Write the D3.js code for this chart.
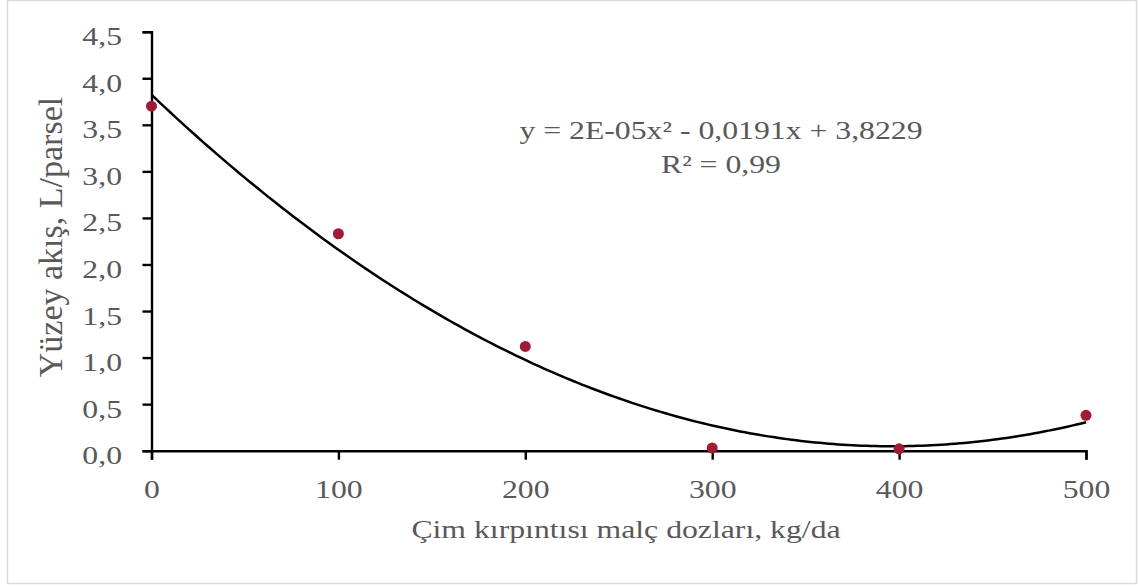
<!DOCTYPE html>
<html><head><meta charset="utf-8">
<script src="https://cdn.jsdelivr.net/npm/d3@7"></script>
<style>body{margin:0;background:#fff}svg{display:block}</style>
</head><body>
<script>
const doses = [0, 100, 200, 300, 400, 500];
const runoff = [3.70, 2.33, 1.12, 0.03, 0.02, 0.38];
const yTicks = [0, 0.5, 1.0, 1.5, 2.0, 2.5, 3.0, 3.5, 4.0, 4.5];
const xTicks = [0, 100, 200, 300, 400, 500];
const xTitle = "Çim kırpıntısı malç dozları, kg/da";
const yTitle = "Yüzey akış, L/parsel";
const eqText = "y = 2E-05x² - 0,0191x + 3,8229";
const r2Text = "R² = 0,99";

const W = 1139, H = 586;
const SX = 1.27;
const svg = d3.select("body").append("svg").attr("width", W).attr("height", H);
svg.append("rect").attr("x", 7.5).attr("y", 0.5).attr("width", 1129).attr("height", 583)
  .attr("fill", "#fff").attr("stroke", "#d9d9d9").attr("stroke-width", 1.5);

const x = d3.scaleLinear().domain([0, 500]).range([151.5, 1086]);
const y = d3.scaleLinear().domain([0, 4.5]).range([450.7, 31.7]);
const font = "'Liberation Serif','Times New Roman',serif";
const grey = "#595959";
const fmt = d => d3.format(".1f")(d).replace(".", ",");

// quadratic least-squares fit of the data (trendline)
function quadFit(xs, ys) {
  let S = [0,0,0,0,0], T = [0,0,0];
  xs.forEach((xi, i) => { for (let k = 0; k < 5; k++) S[k] += Math.pow(xi, k);
    for (let k = 0; k < 3; k++) T[k] += ys[i] * Math.pow(xi, k); });
  const A = [[S[0],S[1],S[2],T[0]],[S[1],S[2],S[3],T[1]],[S[2],S[3],S[4],T[2]]];
  for (let i = 0; i < 3; i++) { for (let j = i+1; j < 3; j++) { const f = A[j][i]/A[i][i];
    for (let k = i; k < 4; k++) A[j][k] -= f*A[i][k]; } }
  const c = [0,0,0];
  for (let i = 2; i >= 0; i--) { let s = A[i][3]; for (let k = i+1; k < 3; k++) s -= A[i][k]*c[k]; c[i] = s/A[i][i]; }
  return c;
}
const c = quadFit(doses, runoff);
const fx = d3.range(0, 500.01, 2.5);
const line = d3.line().x(d => x(d)).y(d => y(c[0] + c[1]*d + c[2]*d*d));

const yAxis = d3.axisLeft(y).tickValues(yTicks).tickFormat(fmt).tickSizeOuter(0).tickSize(9);
const gy = svg.append("g").attr("transform", `translate(${x(0)},0)`).call(yAxis);
const xAxis = d3.axisBottom(x).tickValues(xTicks).tickFormat(d3.format("d")).tickSizeOuter(0).tickSize(9);
const gx = svg.append("g").attr("transform", `translate(0,${y(0)})`).call(xAxis);
[gx, gy].forEach(g => {
  g.select(".domain").attr("stroke", "#000").attr("stroke-width", 2.4);
  g.selectAll(".tick line").attr("stroke", "#000").attr("stroke-width", 2.4);
  g.selectAll(".tick text").attr("fill", grey).attr("font-family", font).attr("font-size", 25)
    .attr("x", null).attr("y", null).attr("dy", null);
});
gy.selectAll(".tick text").attr("text-anchor", "end")
  .attr("transform", `translate(-29.5,13) scale(${SX},1)`);
gx.selectAll(".tick text").attr("text-anchor", "middle")
  .attr("transform", `translate(0,47) scale(${SX},1)`);

svg.append("path").datum(fx).attr("d", line).attr("fill", "none").attr("stroke", "#000").attr("stroke-width", 2.5);

svg.append("g").selectAll("circle").data(doses).join("circle")
  .attr("cx", (d) => x(d)).attr("cy", (d, i) => y(runoff[i])).attr("r", 5.5).attr("fill", "#A01C34");

function stretchedText(tx, ty, str, size) {
  svg.append("text").attr("transform", `translate(${tx},${ty}) scale(${SX},1)`).attr("text-anchor", "middle")
    .attr("font-family", font).attr("font-size", size).attr("fill", grey).text(str);
}
stretchedText(626, 538, xTitle, 25);
stretchedText(721, 139, eqText, 25);
stretchedText(721, 173, r2Text, 25);
svg.append("text").attr("transform", `translate(62,237) rotate(-90)`).attr("text-anchor", "middle")
  .attr("font-family", font).attr("font-size", 34).attr("fill", grey).text(yTitle);
</script>
</body></html>
